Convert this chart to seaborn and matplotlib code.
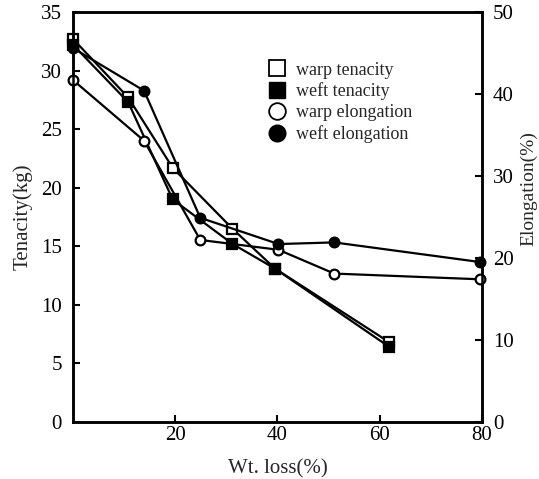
import matplotlib
matplotlib.use("Agg")
import matplotlib.pyplot as plt
from matplotlib.lines import Line2D
import seaborn as sns
import pandas as pd

# Data
tenacity_loss = [0, 10.8, 19.5, 31.2, 39.5, 61.9]
warp_tenacity = [32.7, 27.7, 21.7, 16.5, 13.1, 6.8]
weft_tenacity = [32.2, 27.3, 19.0, 15.2, 13.1, 6.4]

elong_loss = [0, 13.9, 24.9, 40.2, 51.1, 79.7]
warp_elongation = [41.7, 34.3, 22.2, 21.0, 18.1, 17.4]
weft_elongation = [45.6, 40.4, 24.9, 21.7, 21.9, 19.5]

x_ticks = [20, 40, 60, 80]
left_ticks = [0, 5, 10, 15, 20, 25, 30, 35]
right_ticks = [0, 10, 20, 30, 40, 50]

labels = ["warp tenacity", "weft tenacity", "warp elongation", "weft elongation"]

sns.set_style("ticks")
plt.rcParams["font.family"] = ["Liberation Serif", "DejaVu Serif"]

fig = plt.figure(figsize=(5.39, 4.79), dpi=100)
ax = fig.add_axes([0.1354, 0.119, 0.7588, 0.856])
ax2 = ax.twinx()

ten_df = pd.DataFrame({"loss": tenacity_loss, "warp": warp_tenacity, "weft": weft_tenacity})
el_df = pd.DataFrame({"loss": elong_loss, "warp": warp_elongation, "weft": weft_elongation})

common = dict(color="black", linewidth=1.6, markersize=7, markeredgewidth=1.6,
              markeredgecolor="black", errorbar=None)
sns.lineplot(data=ten_df, x="loss", y="warp", marker="s", markerfacecolor="white", ax=ax, **common)
sns.lineplot(data=ten_df, x="loss", y="weft", marker="s", markerfacecolor="black", ax=ax, **common)
sns.lineplot(data=el_df, x="loss", y="warp", marker="o", markerfacecolor="white", ax=ax2, **common)
sns.lineplot(data=el_df, x="loss", y="weft", marker="o", markerfacecolor="black", ax=ax2, **common)

for a in (ax, ax2):
    for ln in a.lines:
        ln.set_clip_on(False)

ax.set_xlim(0, 80)
ax.set_ylim(0, 35)
ax2.set_ylim(0, 50)
ax.set_xticks(x_ticks)
ax.set_yticks(left_ticks)
ax2.set_yticks(right_ticks)

for a in (ax, ax2):
    for s in a.spines.values():
        s.set_linewidth(1.8)
        s.set_color("black")
        s.set_visible(True)

ax.tick_params(axis="both", direction="in", length=5, width=1.5, labelsize=15, colors="black")
ax.tick_params(axis="x", pad=3)
ax.tick_params(axis="y", pad=8)
ax2.tick_params(axis="y", direction="in", length=5, width=1.5, labelsize=15, pad=8, colors="black")

ax.set_xlabel("Wt. loss(%)", fontsize=15, labelpad=10)
ax.set_ylabel("Tenacity(kg)", fontsize=15, labelpad=6)
ax2.set_ylabel("Elongation(%)", fontsize=14, rotation=90)
ax2.yaxis.set_label_coords(1.093, 0.57)

handles = [
    Line2D([], [], linestyle="none", marker="s", markersize=12, markerfacecolor="white", markeredgecolor="black", markeredgewidth=1.3),
    Line2D([], [], linestyle="none", marker="s", markersize=12, markerfacecolor="black", markeredgecolor="black"),
    Line2D([], [], linestyle="none", marker="o", markersize=12, markerfacecolor="white", markeredgecolor="black", markeredgewidth=1.3),
    Line2D([], [], linestyle="none", marker="o", markersize=12, markerfacecolor="black", markeredgecolor="black"),
]
leg = ax2.legend(handles, labels, loc="upper left", bbox_to_anchor=(0.447, 0.91),
                 frameon=False, fontsize=13, handlelength=1.0, handletextpad=0.5,
                 labelspacing=0.22, borderpad=0.2)

fig.savefig("out.png", dpi=100)
